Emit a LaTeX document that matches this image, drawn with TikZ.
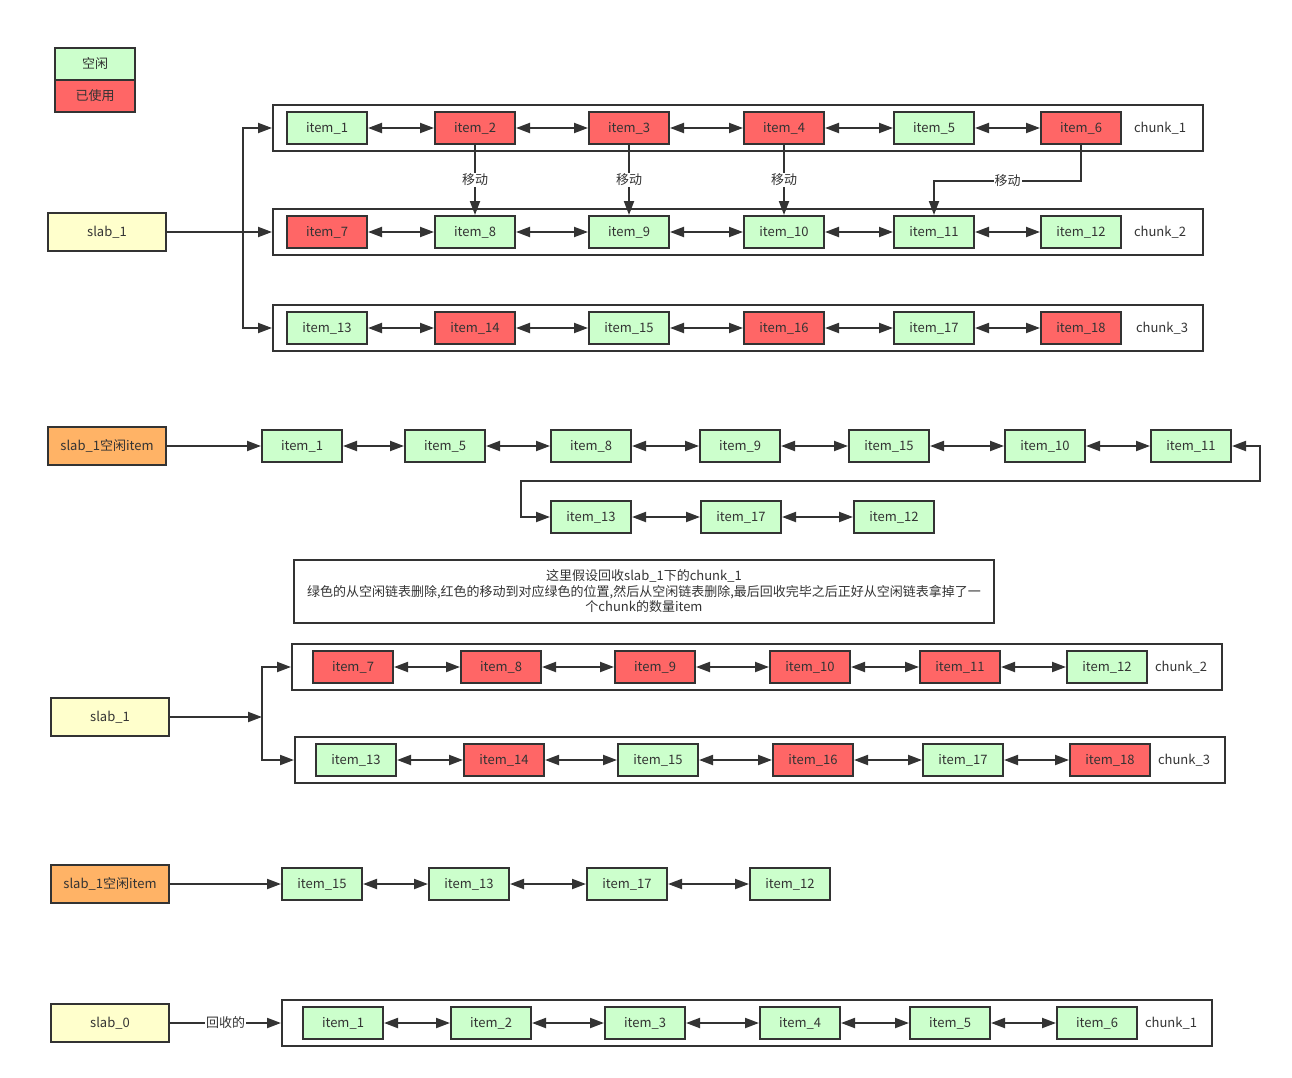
\documentclass[tikz,border=0pt]{standalone}
\usepackage{fontspec}
\setmainfont{Noto Sans CJK SC}
\usetikzlibrary{arrows.meta}
\definecolor{freegreen}{HTML}{CCFFCC}
\definecolor{usedred}{HTML}{FF6666}
\definecolor{slabyellow}{HTML}{FFFFCC}
\definecolor{listorange}{HTML}{FFB366}
\definecolor{ink}{HTML}{333333}
\tikzset{
  box/.style={draw=ink,line width=2pt,minimum width=80pt,minimum height=32pt,inner sep=0pt,text=ink},
  free/.style={box,fill=freegreen},
  used/.style={box,fill=usedred},
  slab/.style={box,minimum width=118pt,minimum height=38pt,fill=slabyellow},
  flist/.style={slab,fill=listorange},
  chunk/.style={draw=ink,line width=2pt,minimum width=930pt,minimum height=46pt,inner sep=0pt},
  chunktag/.style={text=ink,inner sep=1pt},
  link/.style={draw=ink,line width=2pt,-{Triangle[length=14pt,width=10pt]}},
  dlink/.style={link,{Triangle[length=14pt,width=10pt]}-{Triangle[length=14pt,width=10pt]}},
  tag/.style={fill=white,inner sep=1pt,text=ink},
}
\begin{document}
\begin{tikzpicture}[x=1pt,y=-1pt,font=\fontsize{13pt}{15pt}\selectfont]
  \useasboundingbox (0,0) rectangle (1292,1078);
  % legend
  \node[free] (legfree) at (95,64) {空闲};
  \node[used,minimum width=80pt] (legused) at (95,96) {已使用};

  % slab_1 with three chunks
  \node[slab] (slab1) at (107,232) {slab\_1};
  \node[chunk] (chunk1) at (738,128) {};
  \node[chunk] (chunk2) at (738,232) {};
  \node[chunk] (chunk3) at (738,328) {};
  \foreach \n/\x/\s in {1/327/free, 2/475/used, 3/629/used, 4/784/used, 5/934/free, 6/1081/used}{
    \node[\s] (a\n) at (\x,128) {item\_\n};}
  \foreach \n/\x/\s in {7/327/used, 8/475/free, 9/629/free, 10/784/free, 11/934/free, 12/1081/free}{
    \node[\s] (a\n) at (\x,232) {item\_\n};}
  \foreach \n/\x/\s in {13/327/free, 14/475/used, 15/629/free, 16/784/used, 17/934/free, 18/1081/used}{
    \node[\s] (a\n) at (\x,328) {item\_\n};}
  \foreach \a/\b in {1/2,2/3,3/4,4/5,5/6,7/8,8/9,9/10,10/11,11/12,13/14,14/15,15/16,16/17,17/18}{
    \draw[dlink] (a\a) -- (a\b);}
  \node[chunktag] (tag1) at (1160,128) {chunk\_1};
  \node[chunktag] (tag2) at (1160,232) {chunk\_2};
  \node[chunktag] (tag3) at (1162,328) {chunk\_3};
  \coordinate (fork1) at (243,232);
  \draw[link] (slab1.east) -- (chunk2.west);
  \draw[link] (fork1) |- (chunk1.west);
  \draw[link] (fork1) |- (chunk3.west);
  % moves
  \foreach \a/\b in {2/8,3/9,4/10}{
    \draw[link] (a\a) -- node[tag]{移动} (a\b);}
  \draw[link] (a6.south) -- ++(0,36) -| node[tag,pos=0.25]{移动} (a11.north);

  % free list before
  \node[flist] (free1) at (107,446) {slab\_1空闲item};
  \foreach \n/\x in {1/302, 5/445, 8/591, 9/740, 15/889, 10/1045, 11/1191}{
    \node[free] (l\n) at (\x,446) {item\_\n};}
  \foreach \n/\x in {13/591, 17/741, 12/894}{
    \node[free] (l\n) at (\x,517) {item\_\n};}
  \draw[link] (free1) -- (l1);
  \foreach \a/\b in {1/5,5/8,8/9,9/15,15/10,10/11,13/17,17/12}{
    \draw[dlink] (l\a) -- (l\b);}
  \coordinate (wrapR) at (1260,481);
  \coordinate (wrapL) at (521,481);
  \draw[dlink] (l11.east) -| (wrapR) -- (wrapL) |- (l13.west);

  % note
  \node[draw=ink,line width=2pt,minimum width=700pt,minimum height=63pt,align=center,text=ink,
        font=\fontsize{13pt}{15.5pt}\selectfont] (note) at (644,591.5)
    {这里假设回收slab\_1下的chunk\_1\\
     绿色的从空闲链表删除,红色的移动到对应绿色的位置,然后从空闲链表删除,最后回收完毕之后正好从空闲链表拿掉了一\\
     个chunk的数量item};

  % slab_1 after
  \node[slab] (slab1b) at (110,717) {slab\_1};
  \node[chunk] (chunk2b) at (757,667) {};
  \node[chunk] (chunk3b) at (760,760) {};
  \foreach \n/\x/\s in {7/353/used, 8/501/used, 9/655/used, 10/810/used, 11/960/used, 12/1107/free}{
    \node[\s] (b\n) at (\x,667) {item\_\n};}
  \foreach \n/\x/\s in {13/356/free, 14/504/used, 15/658/free, 16/813/used, 17/963/free, 18/1110/used}{
    \node[\s] (b\n) at (\x,760) {item\_\n};}
  \foreach \a/\b in {7/8,8/9,9/10,10/11,11/12,13/14,14/15,15/16,16/17,17/18}{
    \draw[dlink] (b\a) -- (b\b);}
  \node[chunktag] (tag2b) at (1181,667) {chunk\_2};
  \node[chunktag] (tag3b) at (1184,760) {chunk\_3};
  \coordinate (fork2) at (262,717);
  \draw[link] (slab1b.east) -- (fork2);
  \draw[link] (fork2) |- (chunk2b.west);
  \draw[link] (fork2) |- (chunk3b.west);

  % free list after
  \node[flist] (free2) at (110,884) {slab\_1空闲item};
  \foreach \n/\x in {15/322, 13/469, 17/627, 12/790}{
    \node[free] (m\n) at (\x,884) {item\_\n};}
  \draw[link] (free2) -- (m15);
  \foreach \a/\b in {15/13,13/17,17/12}{
    \draw[dlink] (m\a) -- (m\b);}

  % slab_0
  \node[slab] (slab0) at (110,1023) {slab\_0};
  \node[chunk] (chunk1c) at (747,1023) {};
  \foreach \n/\x in {1/343, 2/491, 3/645, 4/800, 5/950, 6/1097}{
    \node[free] (r\n) at (\x,1023) {item\_\n};}
  \foreach \a/\b in {1/2,2/3,3/4,4/5,5/6}{
    \draw[dlink] (r\a) -- (r\b);}
  \node[chunktag] (tag1c) at (1171,1023) {chunk\_1};
  \draw[link] (slab0.east) -- node[tag]{回收的} (chunk1c.west);
\end{tikzpicture}
\end{document}
